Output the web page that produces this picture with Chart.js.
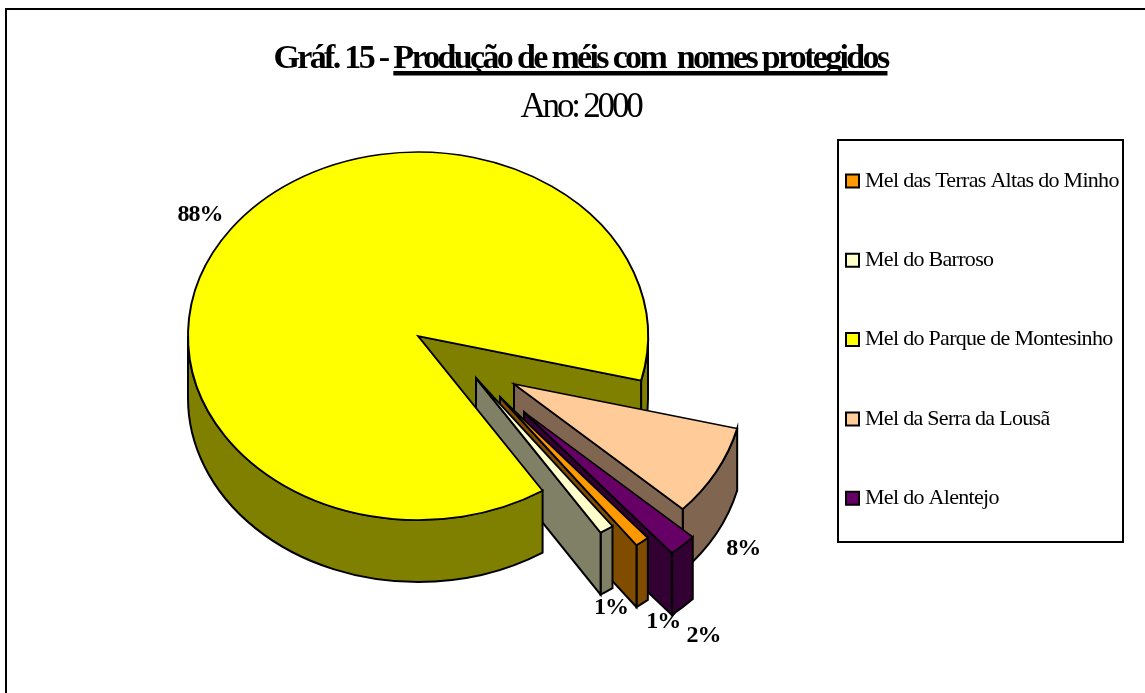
<!DOCTYPE html>
<html lang="pt">
<head>
<meta charset="utf-8">
<title>Gráf. 15</title>
<style>html,body{margin:0;padding:0;background:#fff}canvas{display:block}</style>
<script src="https://cdn.jsdelivr.net/npm/chart.js@4"></script>
</head>
<body>
<canvas id="c" width="1145" height="693"></canvas>
<script>
const categories = ["Mel das Terras Altas do Minho", "Mel do Barroso", "Mel do Parque de Montesinho", "Mel da Serra da Lousã", "Mel do Alentejo"];
const shares = [1, 1, 88, 8, 2];
const topColors = ["#FF9900", "#FFFFCC", "#FFFF00", "#FFCC99", "#660066"];
const wallColors = ["#804D00", "#808066", "#808000", "#806650", "#330033"];
const titleLead = "Gráf. 15 - ";
const titleRest = "Produção de méis com  nomes protegidos";
const subtitleText = "Ano: 2000";

// style constants
const FONT = "'Liberation Serif','Times New Roman',serif";
const TILT = 0.8, DEPTH = 62, RADIUS = 230, CX = 418, CY = 336, ROTATION = 140;
const shiftX = [82, 58, 0, 96, 106];
const shiftY = [61, 42, 0, 48, 76];
const labelNudgeX = [21, 4.5, -31, 27, 21];
const labelNudgeY = [80, 78.5, -14, 77, 91];
const TITLE_SIZE = 34, SUB_SIZE = 35;
const TITLE_SPACING = "-2.67px", SUB_SPACING = "-3.2px", LEGEND_SPACING = "-0.7px", LABEL_SPACING = "-1px";
const LEG_FONT = 22, LEG_PAD = 57.3;

function spaced(box, sp, dx) {
  const orig = box.draw;
  box.draw = function (...a) {
    const c = this.ctx; c.save(); c.letterSpacing = sp;
    const ft = c.fillText;
    if (dx) c.fillText = function (t, x, y, m) { return m === undefined ? ft.call(c, t, x + dx, y) : ft.call(c, t, x + dx, y, m); };
    orig.apply(this, a);
    if (dx) delete c.fillText;
    c.restore();
  };
}

function outerWall(ctx, a, from, to, color) {
  const D = DEPTH / TILT;
  ctx.save();
  ctx.scale(1, TILT);
  ctx.beginPath();
  ctx.arc(a.x, a.y, a.outerRadius, from, to);
  ctx.arc(a.x, a.y + D, a.outerRadius, to, from, true);
  ctx.closePath();
  ctx.restore();
  ctx.fillStyle = color; ctx.fill(); ctx.stroke();
}
function sideWall(ctx, a, ang, color) {
  const D = DEPTH / TILT;
  const px = a.x + Math.cos(ang) * a.outerRadius, py = a.y + Math.sin(ang) * a.outerRadius;
  ctx.save();
  ctx.scale(1, TILT);
  ctx.beginPath();
  ctx.moveTo(a.x, a.y);
  ctx.lineTo(px, py);
  ctx.lineTo(px, py + D);
  ctx.lineTo(a.x, a.y + D);
  ctx.closePath();
  ctx.restore();
  ctx.fillStyle = color; ctx.fill(); ctx.stroke();
}

const pie3d = {
  id: "pie3d",
  afterLayout(chart) {
    if (!chart.$spaced) {
      chart.$spaced = true;
      chart.boxes.forEach(b => {
        if (b === chart.legend) spaced(b, LEGEND_SPACING, 6 - LEG_FONT / 2);
        else if (b === chart.titleBlock) spaced(b, TITLE_SPACING);
        else if (b.options && b.options.text === subtitleText) spaced(b, SUB_SPACING);
      });
    }
    const l = chart.legend;
    l.left = 846 - LEG_PAD; l.right = 1145;
    l.top = 181 - LEG_FONT / 2 - LEG_PAD; l.bottom = 693;
    l.width = l.right - l.left; l.height = l.bottom - l.top;
  },
  afterDatasetsUpdate(chart) {
    chart.getDatasetMeta(0).data.forEach((a, i) => {
      a.x = CX + shiftX[i];
      a.y = CY / TILT + shiftY[i] / TILT;
    });
  },
  beforeDraw(chart) {
    const c = chart.ctx;
    c.save();
    c.strokeStyle = "#000"; c.lineWidth = 2;
    c.beginPath(); c.moveTo(6, 693); c.lineTo(6, 9); c.lineTo(1145, 9); c.stroke();
    c.lineWidth = 2; c.strokeRect(838, 140, 285, 402);
    c.restore();
  },
  beforeDatasetsDraw(chart) {
    const c = chart.ctx;
    const arcs = chart.getDatasetMeta(0).data;
    c.save();
    c.strokeStyle = "#000"; c.lineWidth = 2; c.lineJoin = "miter";
    const big = shares.indexOf(Math.max(...shares));
    const A = arcs[big], TAU = Math.PI * 2;
    const norm = v => ((v % TAU) + TAU) % TAU;
    // rear faces of the big slice
    sideWall(c, A, A.endAngle, wallColors[big]);
    outerWall(c, A, TAU, A.endAngle, wallColors[big]);
    // exploded slabs, back to front
    arcs.map((a, i) => ({ a, i })).filter(o => o.i !== big)
      .sort((p, q) => norm(p.a.startAngle) - norm(q.a.startAngle))
      .forEach(({ a, i }) => {
        outerWall(c, a, a.startAngle, a.endAngle, wallColors[i]);
        sideWall(c, a, a.endAngle, wallColors[i]);
      });
    // front face of the big slice
    outerWall(c, A, A.startAngle, Math.PI, wallColors[big]);
    c.restore();
  },
  afterDatasetsDraw(chart) {
    const c = chart.ctx;
    c.save();
    c.fillStyle = "#000"; c.font = "bold 24px " + FONT;
    c.letterSpacing = LABEL_SPACING;
    c.textAlign = "center"; c.textBaseline = "middle";
    chart.getDatasetMeta(0).data.forEach((a, i) => {
      const m = (a.startAngle + a.endAngle) / 2;
      const x = a.x + Math.cos(m) * a.outerRadius + labelNudgeX[i];
      const y = (a.y + Math.sin(m) * a.outerRadius) * TILT + labelNudgeY[i];
      c.fillText(shares[i] + "%", x, y);
    });
    c.restore();
  },
  afterDraw(chart) {
    const c = chart.ctx, t = chart.titleBlock;
    c.save();
    c.font = "bold " + TITLE_SIZE + "px " + FONT;
    c.letterSpacing = TITLE_SPACING;
    const mid = (t.left + t.right) / 2;
    const total = c.measureText(titleLead + titleRest).width;
    const lead = c.measureText(titleLead).width;
    c.fillStyle = "#000";
    c.fillRect(mid - total / 2 + lead, 71, total - lead, 4.5);
    c.restore();
  }
};

const tiltClip = {
  id: "tiltClip",
  beforeDatasetDraw(chart) { chart.ctx.save(); chart.ctx.scale(1, TILT); },
  afterDatasetDraw(chart) { chart.ctx.restore(); }
};

new Chart(document.getElementById("c"), {
  type: "pie",
  data: {
    labels: categories,
    datasets: [{
      data: shares,
      backgroundColor: topColors,
      borderColor: "#000",
      borderWidth: 2,
      borderJoinStyle: "miter",
      clip: false
    }]
  },
  options: {
    responsive: false,
    animation: false,
    rotation: ROTATION,
    radius: RADIUS,
    layout: { padding: { left: 16, right: 0, top: 39, bottom: 0 } },
    events: [],
    plugins: {
      tooltip: { enabled: false },
      title: {
        display: true, text: titleLead + titleRest, color: "#000",
        font: { family: FONT, size: TITLE_SIZE, weight: "bold", lineHeight: 1.2 },
        padding: { top: 0, bottom: 7 }
      },
      subtitle: {
        display: true, text: subtitleText, color: "#000",
        font: { family: FONT, size: SUB_SIZE, weight: "normal", lineHeight: 1.2 },
        padding: { top: 0, bottom: 0 }
      },
      legend: {
        position: "right", align: "start",
        labels: {
          color: "#000", boxWidth: 13, boxHeight: 13, padding: LEG_PAD,
          font: { family: FONT, size: LEG_FONT }
        }
      }
    }
  },
  plugins: [pie3d, tiltClip]
});
</script>
</body>
</html>
